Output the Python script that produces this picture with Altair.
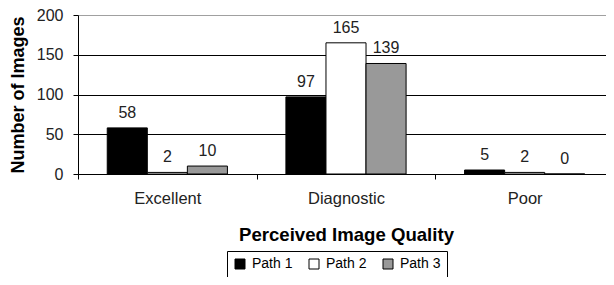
import altair as alt
import pandas as pd

categories = ["Excellent", "Diagnostic", "Poor"]
series = ["Path 1", "Path 2", "Path 3"]
path1 = [58, 97, 5]
path2 = [2, 165, 2]
path3 = [10, 139, 0]
colors = ["#000000", "#ffffff", "#999999"]
y_ticks = [0, 50, 100, 150, 200]

rows = []
for i, c in enumerate(categories):
    for s, vals in zip(series, [path1, path2, path3]):
        rows.append({"quality": c, "path": s, "count": vals[i]})
df = pd.DataFrame(rows)

FONT = "Liberation Sans"

x = alt.X("quality:N", sort=categories,
          scale=alt.Scale(paddingInner=0, paddingOuter=0, range=[0, 536]),
          axis=alt.Axis(title="Perceived Image Quality", labelAngle=0,
                        tickBand="extent", ticks=True, tickSize=5,
                        tickColor="black", domainColor="black",
                        labelFontSize=16.5, labelFont=FONT, labelColor="#222",
                        labelPadding=11, titleFont=FONT, titleFontSize=18.6,
                        titleFontWeight="bold", titleColor="black",
                        titlePadding=19, grid=False))
xo = alt.XOffset("path:N", sort=series,
                 scale=alt.Scale(paddingInner=0, paddingOuter=0.73))
y = alt.Y("count:Q",
          scale=alt.Scale(domain=[0, 200], nice=False),
          axis=alt.Axis(title="Number of Images", values=y_ticks, tickCount=5,
                        labelOverlap=False,
                        grid=True,
                        gridColor={"expr": "datum.value == 200 ? '#a0a0a0' : '#000000'"},
                        gridWidth=1, tickSize=5, tickColor="black",
                        domainColor="black", labelFontSize=16, labelFont=FONT,
                        labelColor="#222", labelPadding=10,
                        titleFont=FONT, titleFontSize=18, titleFontWeight="bold",
                        titleColor="black", titlePadding=9))

color = alt.Color("path:N", sort=series,
                  scale=alt.Scale(domain=series, range=colors),
                  legend=alt.Legend(title=None, orient="none", legendX=149, legendY=236,
                                    direction="horizontal", symbolType="square",
                                    symbolSize=100, symbolStrokeColor="black",
                                    symbolStrokeWidth=1, labelFont=FONT,
                                    labelFontSize=14, labelColor="black",
                                    labelOffset=5, columnPadding=14,
                                    strokeColor="black", padding=6))

bars = alt.Chart(df).mark_bar(stroke="black", strokeWidth=1).encode(
    x=x, xOffset=xo, y=y, color=color)

labels = alt.Chart(df).mark_text(baseline="alphabetic", dy=-10, fontSize=16,
                                 font=FONT, color="#222").encode(
    x=alt.X("quality:N", sort=categories),
    xOffset=alt.XOffset("path:N", sort=series),
    y="count:Q",
    text="count:Q")

chart = (bars + labels).properties(
    width=528, height=159,
    autosize=alt.AutoSizeParams(type="none"),
    padding={"left": 70, "top": 7, "right": 0, "bottom": 103},
).configure_view(stroke=None)

chart.save("out.html", embed_options={"renderer": "svg", "actions": False})
